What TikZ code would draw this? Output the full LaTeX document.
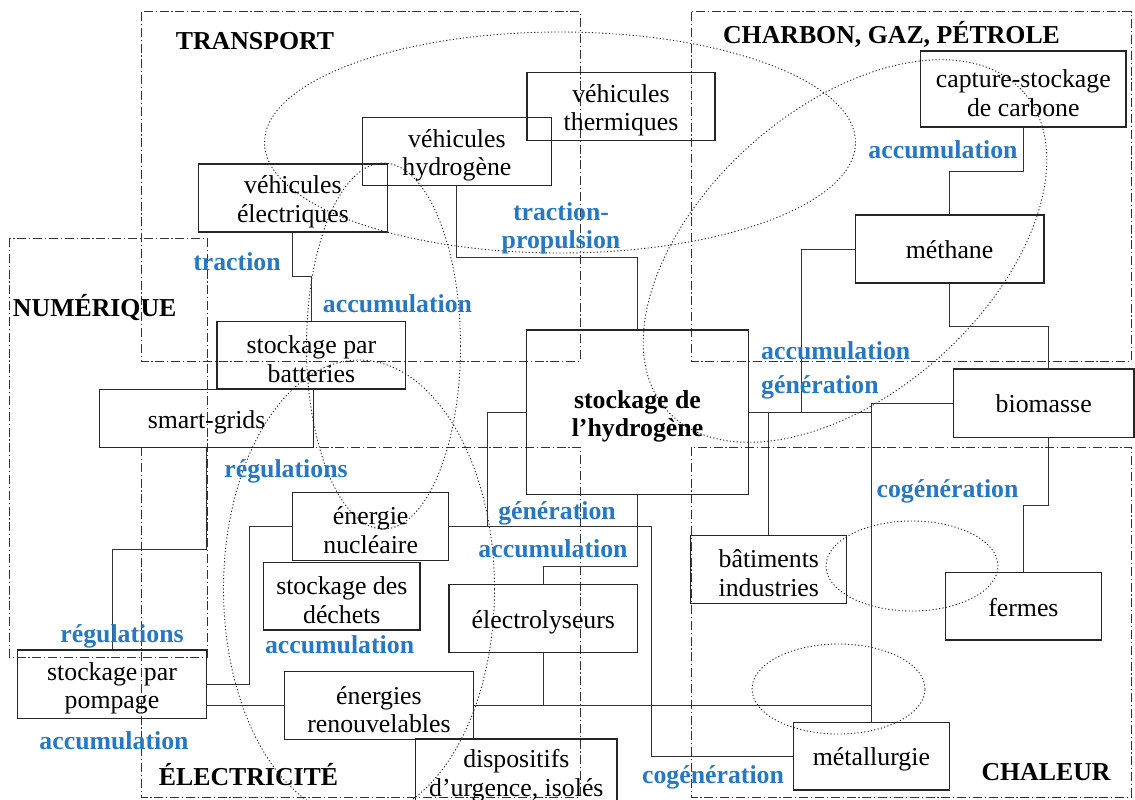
\documentclass[tikz,border=0pt]{standalone}
\usepackage{fontspec}
\setmainfont{Liberation Serif}
\definecolor{myblue}{RGB}{38,120,196}
\newcommand{\myfs}{\fontsize{25.8pt}{28.5pt}\selectfont}
\tikzset{
  bx/.style={draw=black!85, line width=1.1pt, inner sep=0pt},
  bxt/.style={align=center, inner sep=0pt, font=\myfs},
  lbl/.style={text=myblue, font=\myfs\bfseries, inner sep=0pt, align=center},
  ttl/.style={text=black, font=\myfs\bfseries, inner sep=0pt},
  conn/.style={draw=black!80, line width=1pt},
  zone/.style={draw=black!80, line width=1pt, dash pattern=on 9pt off 2.8pt on 1.2pt off 2.8pt},
  elp/.style={draw=black!85, line width=0.9pt, dash pattern=on 1.2pt off 2.2pt},
}
\begin{document}
\begin{tikzpicture}[x=1pt,y=-1pt]
\fill[white] (0,0) rectangle (1135,800);
\useasboundingbox (0,0) rectangle (1135,800);

% zones
\draw[zone] (141,12) rectangle (580,361);
\draw[zone] (691,12) rectangle (1131,361);
\draw[zone] (9,238) rectangle (207,657);
\draw[zone] (141,447) rectangle (580,797);
\draw[zone] (691,447) rectangle (1131,797);

% ellipses
\draw[elp] (560,142.5) ellipse [x radius=295.5pt, y radius=110.5pt];
\draw[elp, rotate around={41.8:(845,251)}] (845,251) ellipse [x radius=239pt, y radius=142pt];
\draw[elp] (383.5,346) ellipse [x radius=77pt, y radius=183pt];
\draw[elp] (359,589) ellipse [x radius=135.5pt, y radius=229pt];
\draw[elp] (912,566) ellipse [x radius=86pt, y radius=45pt];
\draw[elp] (838.5,689) ellipse [x radius=86.5pt, y radius=45pt];

% boxes
\node[bx, minimum width=188pt, minimum height=67.6pt] (vt) at (621,106.5) {};
\node[bx, minimum width=188.8pt, minimum height=67.6pt] (vh) at (456.9,151.5) {};
\node[bx, minimum width=188.8pt, minimum height=68pt] (ve) at (292.9,198) {};
\node[bx, minimum width=205.4pt, minimum height=76pt] (cap) at (1023.3,89) {};
\node[bx, minimum width=188.8pt, minimum height=68pt] (meth) at (949.6,249) {};
\node[bx, minimum width=188.8pt, minimum height=67.3pt] (sb) at (311.4,355.35) {};
\node[bx, minimum width=213.8pt, minimum height=58pt] (sg) at (206.6,418.3) {};
\node[bx, minimum width=221.6pt, minimum height=164.3pt] (h2) at (637.5,412.15) {};
\node[bx, minimum width=180.6pt, minimum height=68.3pt] (bio) at (1043.7,403.15) {};
\node[bx, minimum width=156pt, minimum height=68pt] (nuc) at (370.7,526.3) {};
\node[bx, minimum width=156.4pt, minimum height=67.3pt] (dech) at (341.8,596.35) {};
\node[bx, minimum width=156pt, minimum height=68pt] (bat) at (768.8,569.3) {};
\node[bx, minimum width=156pt, minimum height=67.7pt] (fer) at (1023.4,606.15) {};
\node[bx, minimum width=188.7pt, minimum height=68pt] (ely) at (543.35,618.3) {};
\node[bx, minimum width=189pt, minimum height=68.3pt] (pomp) at (112,684.15) {};
\node[bx, minimum width=189.1pt, minimum height=67.6pt] (ren) at (378.95,705.5) {};
\node[bx, minimum width=156pt, minimum height=67.3pt] (met) at (871.4,756.35) {};
\node[bx, minimum width=201.3pt, minimum height=68pt] (disp) at (516.35,773) {};

% box texts
\node[bxt, yshift=-4pt] (vtT) at (vt) {véhicules\\thermiques};
\node[bxt, yshift=-4pt] (vhT) at (vh) {véhicules\\hydrogène};
\node[bxt, yshift=-4pt] (veT) at (ve) {véhicules\\électriques};
\node[bxt, yshift=-4pt] (capT) at (cap) {capture-stockage\\de carbone};
\node[bxt, yshift=-0.5pt] (methT) at (meth) {méthane};
\node[bxt, yshift=-4pt] (sbT) at (sb) {stockage par\\batteries};
\node[bxt, yshift=-4.5pt] (sgT) at (sg) {smart-grids};
\node[bxt, yshift=-4pt, font=\myfs\bfseries] (h2T) at (h2) {stockage de\\l’hydrogène};
\node[bxt, yshift=-1pt] (bioT) at (bio) {biomasse};
\node[bxt, yshift=-4pt] (nucT) at (nuc) {énergie\\nucléaire};
\node[bxt, yshift=-4pt] (dechT) at (dech) {stockage des\\déchets};
\node[bxt, yshift=-4pt] (batT) at (bat) {bâtiments\\industries};
\node[bxt, yshift=-1pt] (ferT) at (fer) {fermes};
\node[bxt, yshift=-4pt] (elyT) at (ely) {électrolyseurs};
\node[bxt, yshift=-4pt] (pompT) at (pomp) {stockage par\\pompage};
\node[bxt, yshift=-4pt] (renT) at (ren) {énergies\\renouvelables};
\node[bxt, yshift=-3pt] (metT) at (met) {métallurgie};
\node[bxt, yshift=-2.5pt] (dispT) at (disp) {dispositifs\\d’urgence, isolés};

% connectors
\draw[conn] (ve.south -| 292.7,0) -- (292.7,276.7) -- (311,276.7) -- (sb.north -| 311,0);
\draw[conn] (vh.south -| 456.7,0) -- (456.7,257.7) -- (637.5,257.7) -- (h2.north);
\draw[conn] (cap.south -| 1023.5,0) -- (1023.5,171) -- (949.6,171) -- (meth.north);
\draw[conn] (meth.south) -- (949.6,326) -- (1048.3,326) -- (bio.north -| 1048.3,0);
\draw[conn] (meth.west) -- (801.7,249) -- (801.7,412.15);
\draw[conn] (h2.east) -- (871.4,412.15);
\draw[conn] (bat.north) -- (768.8,412.15);
\draw[conn] (bio.west) -| (met.north);
\draw[conn] (bio.south -| 1048.3,0) -- (1048.3,505) -- (1023.4,505) -- (fer.north);
\draw[conn] (h2.west) -- (487.3,412.15) -- (487.3,526.3);
\draw[conn] (nuc.east) -- (651.7,526.3) -- (651.7,756.35) -- (met.west);
\draw[conn] (h2.south) -- (637.5,566.7) -- (543.35,566.7) -- (ely.north);
\draw[conn] (ely.south) -- (543.35,705.5);
\draw[conn] (ren.east) -- (871.4,705.5);
\draw[conn] (pomp.east |- ren.west) -- (ren.west);
\draw[conn] (nuc.west) -- (249.8,526.3) -- (249.8,684.15) -- (pomp.east);
\draw[conn] (sg.south) -- (206.6,549) -- (112,549) -- (pomp.north);

% zone titles
\node[ttl] (tTransport) at (255,41) {TRANSPORT};
\node[ttl] (tCharbon) at (891.5,34.3) {CHARBON, GAZ, PÉTROLE};
\node[ttl] (tNum) at (94.7,307.3) {NUMÉRIQUE};
\node[ttl] (tElec) at (248.5,775) {ÉLECTRICITÉ};
\node[ttl] (tChal) at (1046,771.7) {CHALEUR};

% blue labels
\node[lbl] (l1) at (943,150) {accumulation};
\node[lbl] (l2) at (561,228.5) {traction-\\propulsion};
\node[lbl] (l3) at (237,261.7) {traction};
\node[lbl] (l4) at (397.5,304) {accumulation};
\node[lbl, anchor=west] (l5a) at (761,351) {accumulation};
\node[lbl, anchor=west] (l5b) at (761,387) {génération};
\node[lbl] (l6) at (286,471) {régulations};
\node[lbl] (l7a) at (557,513) {génération};
\node[lbl] (l7b) at (553,548.3) {accumulation};
\node[lbl] (l8) at (339.6,644.3) {accumulation};
\node[lbl] (l9) at (122,636) {régulations};
\node[lbl] (l10) at (114,741) {accumulation};
\node[lbl] (l11) at (947.5,491) {cogénération};
\node[lbl] (l12) at (713,777.5) {cogénération};
\end{tikzpicture}
\end{document}
